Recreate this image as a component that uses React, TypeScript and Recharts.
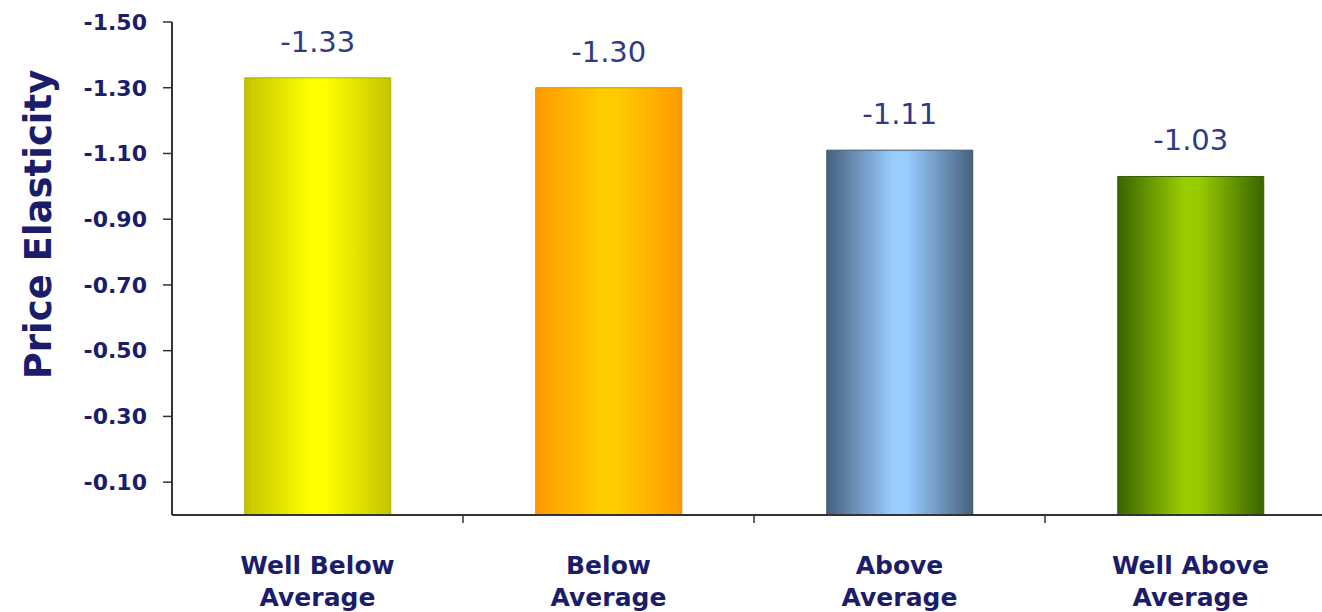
import { Bar, BarChart, Cell, LabelList, XAxis, YAxis } from 'recharts';

const categories = ['Well Below Average', 'Below Average', 'Above Average', 'Well Above Average'];
const elasticity = [-1.33, -1.3, -1.11, -1.03];
const yTicks = [-1.5, -1.3, -1.1, -0.9, -0.7, -0.5, -0.3, -0.1];

// edge / centre / border colours of each bar's shading
const SHADES = [
  { edge: '#c4c400', mid: '#ffff00', stroke: '#b0b000' },
  { edge: '#ff9a00', mid: '#ffcc00', stroke: '#e88a00' },
  { edge: '#46607e', mid: '#99ccff', stroke: '#3d5472' },
  { edge: '#3a6400', mid: '#99cc00', stroke: '#336000' },
];

const NAVY = '#1b1d6b';
const data = categories.map((name, i) => ({ name, value: elasticity[i] }));

function CategoryTick(props: any) {
  const { x, y, payload } = props;
  const half = payload?.offset ?? 145.5;
  const label: string = payload.value;
  const cut = label.lastIndexOf(' ');
  const first = label.slice(0, cut);
  const second = label.slice(cut + 1);
  return (
    <g>
      <line x1={x + half} x2={x + half} y1={y - 8} y2={y} stroke="#333" strokeWidth={1.5} />
      <text
        x={x}
        y={y + 51}
        textAnchor="middle"
        fill={NAVY}
        style={{ fontFamily: 'DejaVu Sans', fontWeight: 700, fontSize: 25 }}
      >
        <tspan x={x}>{first}</tspan>
        <tspan x={x} dy={32}>{second}</tspan>
      </text>
    </g>
  );
}

function ValueLabel(props: any) {
  const { x, y, width, height, value } = props;
  const top = Math.min(y, y + height);
  return (
    <text
      x={x + width / 2}
      y={top - 26}
      textAnchor="middle"
      fill="#2f3a86"
      style={{ fontFamily: 'DejaVu Sans', fontSize: 29 }}
    >
      {Number(value).toFixed(2)}
    </text>
  );
}

function AxisTitle(props: any) {
  const { viewBox } = props;
  const cx = 38;
  const cy = viewBox.y + viewBox.height / 2 - 44;
  return (
    <text
      x={cx}
      y={cy}
      transform={`rotate(-90, ${cx}, ${cy})`}
      textAnchor="middle"
      dominantBaseline="central"
      fill={NAVY}
      style={{ fontFamily: 'DejaVu Sans', fontWeight: 700, fontSize: 37 }}
    >
      Price Elasticity
    </text>
  );
}

export default function App() {
  return (
    <div
      style={{
        position: 'absolute',
        left: 0,
        top: 0,
        width: 1322,
        height: 612,
        overflow: 'hidden',
        background: '#fff',
      }}
    >
      <BarChart
        width={1340}
        height={612}
        data={data}
        margin={{ top: 22, right: 4, bottom: 0, left: 0 }}
        barCategoryGap="25%"
      >
        <defs>
          {SHADES.map((s, i) => (
            <linearGradient key={i} id={`shade${i}`} x1="0" y1="0" x2="1" y2="0">
              <stop offset="0%" stopColor={s.edge} />
              <stop offset="45%" stopColor={s.mid} />
              <stop offset="55%" stopColor={s.mid} />
              <stop offset="100%" stopColor={s.edge} />
            </linearGradient>
          ))}
        </defs>
        <XAxis
          dataKey="name"
          height={97}
          interval={0}
          tickLine={false}
          axisLine={{ stroke: '#333', strokeWidth: 2 }}
          tick={<CategoryTick />}
        />
        <YAxis
          type="number"
          domain={[-1.5, 0]}
          reversed
          ticks={yTicks}
          interval={0}
          width={172}
          tickSize={9}
          tickMargin={16}
          axisLine={{ stroke: '#333', strokeWidth: 2 }}
          tickLine={{ stroke: '#333', strokeWidth: 1.5 }}
          tickFormatter={(v: number) => v.toFixed(2)}
          tick={{ fill: NAVY, fontFamily: 'DejaVu Sans', fontWeight: 700, fontSize: 22 }}
          label={<AxisTitle />}
        />
        <Bar dataKey="value" isAnimationActive={false}>
          {data.map((_, i) => (
            <Cell key={i} fill={`url(#shade${i})`} stroke={SHADES[i].stroke} strokeWidth={1} />
          ))}
          <LabelList dataKey="value" content={<ValueLabel />} />
        </Bar>
      </BarChart>
    </div>
  );
}
